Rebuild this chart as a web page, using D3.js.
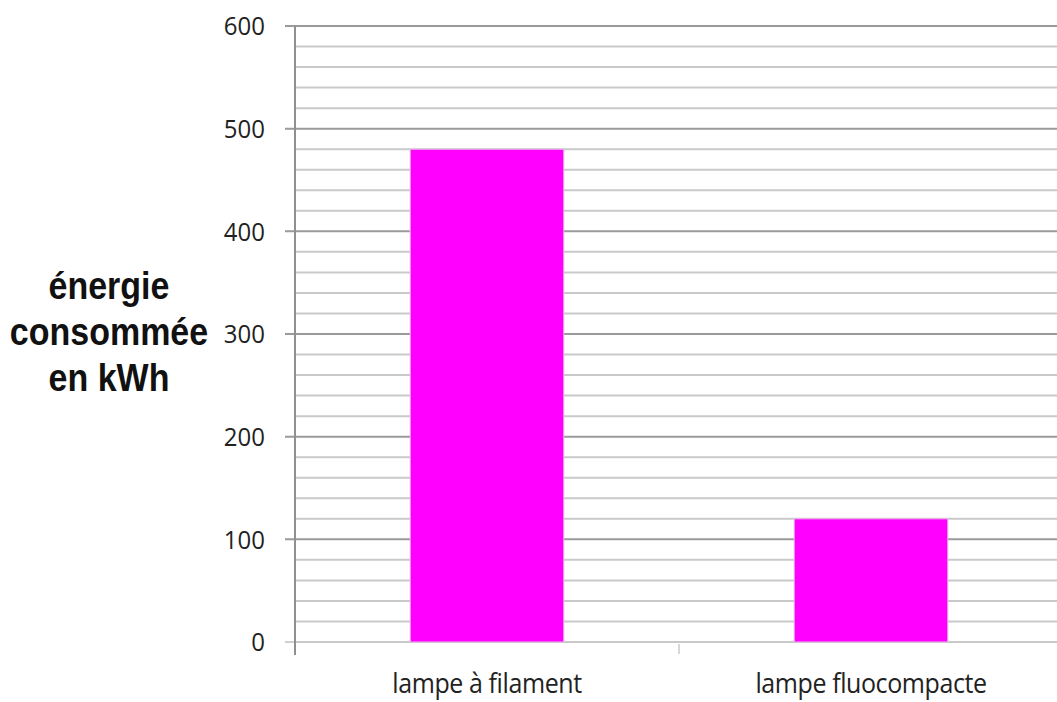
<!DOCTYPE html>
<html>
<head>
<meta charset="utf-8">
<script src="https://cdn.jsdelivr.net/npm/d3@7"></script>
<style>
  html, body { margin: 0; padding: 0; background: #fff; }
  svg { display: block; }
</style>
</head>
<body>
<svg id="chart" width="1057" height="702"></svg>
<script>
// Energy consumed by two lamp types
const categories = ["lampe à filament", "lampe fluocompacte"];
const values = [480, 120];
const yTicks = [0, 100, 200, 300, 400, 500, 600];
const yMinorTicks = d3.range(0, 601, 20);
const titleLines = ["énergie", "consommée", "en kWh"];

const W = 1057, H = 702;
const plotLeft = 295, plotTop = 26, plotBottom = 642;
const step = 384;

const svg = d3.select("#chart");

const y = d3.scaleLinear().domain([0, 600]).range([plotBottom, plotTop]);
const xCat = d3.scaleBand().domain(categories).range([plotLeft, plotLeft + step * categories.length]);
const xBar = d3.scaleBand().domain(categories)
  .range([plotLeft, plotLeft + step * categories.length])
  .paddingInner(0.6).paddingOuter(0.3);

// minor grid lines
svg.append("g").selectAll("line")
  .data(yMinorTicks.filter(v => v % 100 !== 0 || v === 0))
  .join("line")
  .attr("x1", plotLeft).attr("x2", W)
  .attr("y1", d => y(d)).attr("y2", d => y(d))
  .attr("stroke", "#c9c9c9").attr("stroke-width", 2);

// major grid lines
svg.append("g").selectAll("line")
  .data(yTicks.filter(v => v !== 0))
  .join("line")
  .attr("x1", plotLeft - 10).attr("x2", W)
  .attr("y1", d => y(d)).attr("y2", d => y(d))
  .attr("stroke", "#9a9a9a").attr("stroke-width", 2);

// tick at zero
svg.append("line")
  .attr("x1", plotLeft - 10).attr("x2", plotLeft)
  .attr("y1", y(0)).attr("y2", y(0))
  .attr("stroke", "#cfcfcf").attr("stroke-width", 2);

// bars
svg.append("g").selectAll("rect")
  .data(categories)
  .join("rect")
  .attr("x", d => xBar(d))
  .attr("width", xBar.bandwidth())
  .attr("y", (d, i) => y(values[i]))
  .attr("height", (d, i) => y(0) - y(values[i]))
  .attr("fill", "#ff00ff")
  .attr("stroke", "#e8b8e8").attr("stroke-width", 1);

// value axis line
svg.append("line")
  .attr("x1", plotLeft).attr("x2", plotLeft)
  .attr("y1", plotTop).attr("y2", plotBottom + 13)
  .attr("stroke", "#909090").attr("stroke-width", 2);

// category separator ticks
svg.append("g").selectAll("line")
  .data(categories.slice(1))
  .join("line")
  .attr("x1", d => xCat(d)).attr("x2", d => xCat(d))
  .attr("y1", plotBottom + 2).attr("y2", plotBottom + 12)
  .attr("stroke", "#b0b0b0").attr("stroke-width", 1);

// tick labels
svg.append("g").selectAll("text")
  .data(yTicks)
  .join("text")
  .attr("transform", d => `translate(265,${y(d)}) scale(1,1.08)`)
  .attr("dy", "0.36em")
  .attr("text-anchor", "end")
  .attr("font-family", "'Open Sans', sans-serif")
  .attr("font-size", 24)
  .attr("fill", "#222")
  .text(d => d);

// category labels
svg.append("g").selectAll("text")
  .data(categories)
  .join("text")
  .attr("transform", d => `translate(${xCat(d) + xCat.bandwidth() / 2},693) scale(1,1.1)`)
  .attr("text-anchor", "middle")
  .attr("font-family", "'Open Sans', sans-serif")
  .attr("font-size", 25)
  .attr("letter-spacing", "-0.4px")
  .attr("fill", "#222")
  .text(d => d);

// value axis title
svg.append("g").selectAll("text")
  .data(titleLines)
  .join("text")
  .attr("transform", (d, i) => `translate(109,${299 + i * 46}) scale(1,1.12)`)
  .attr("text-anchor", "middle")
  .attr("font-family", "'Liberation Sans', Arial, sans-serif")
  .attr("font-weight", "bold")
  .attr("font-size", 34)
  .attr("fill", "#111")
  .text(d => d);
</script>
</body>
</html>
